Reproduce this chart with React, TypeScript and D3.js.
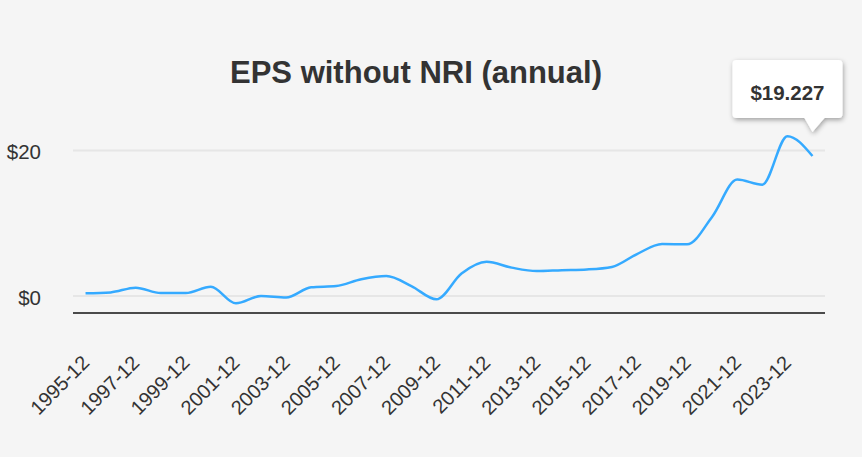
import React from "react";
import * as d3 from "d3";

const years: string[] = [
  "1995-12", "1996-12", "1997-12", "1998-12", "1999-12", "2000-12", "2001-12", "2002-12",
  "2003-12", "2004-12", "2005-12", "2006-12", "2007-12", "2008-12", "2009-12", "2010-12",
  "2011-12", "2012-12", "2013-12", "2014-12", "2015-12", "2016-12", "2017-12", "2018-12",
  "2019-12", "2020-12", "2021-12", "2022-12", "2023-12", "2024-12",
];

const eps: number[] = [
  0.37, 0.5, 1.15, 0.4, 0.4, 1.28, -1.0, 0.0,
  -0.2, 1.2, 1.37, 2.3, 2.75, 1.37, -0.45, 3.1,
  4.7, 3.9, 3.43, 3.55, 3.65, 4.0, 5.77, 7.14,
  7.1, 10.9, 16.0, 15.3, 21.96, 19.227,
];

const yTicks: number[] = [0, 20];
const tickLabels: string[] = years.filter((_, i) => i % 2 === 0);

const W = 862;
const H = 457;
const font = "'Liberation Sans', Arial, Helvetica, sans-serif";

export default function App() {
  const x = d3.scalePoint<string>().domain(years).range([73, 825]).padding(0.5);
  const y = d3.scaleLinear().domain([-2.33, 25]).range([313, 114]);

  const line = d3
    .line<number>()
    .x((_, i) => x(years[i]) as number)
    .y((d) => y(d))
    .curve(d3.curveMonotoneX);

  const last = eps.length - 1;
  const px = x(years[last]) as number;
  const py = y(eps[last]);

  // tooltip box around the last point
  const bx0 = px - 80;
  const bx1 = px + 30;
  const by0 = py - 96;
  const by1 = py - 38;
  const r = 4;
  const tip = `M${bx0 + r},${by0} H${bx1 - r} Q${bx1},${by0} ${bx1},${by0 + r} V${by1 - r} Q${bx1},${by1} ${bx1 - r},${by1} H${px + 12} L${px},${py - 24} L${px - 8},${by1} H${bx0 + r} Q${bx0},${by1} ${bx0},${by1 - r} V${by0 + r} Q${bx0},${by0} ${bx0 + r},${by0} Z`;

  return (
    <svg
      width={W}
      height={H}
      style={{ position: "absolute", left: 0, top: 0, background: "#f5f5f5" }}
      fontFamily={font}
    >
      <defs>
        <filter id="tipShadow" x="-20%" y="-20%" width="150%" height="160%">
          <feDropShadow dx="1" dy="2" stdDeviation="2.5" floodColor="#000" floodOpacity="0.35" />
        </filter>
      </defs>
      <rect x={0} y={0} width={W} height={H} fill="#f5f5f5" />

      <text x={416} y={83} textAnchor="middle" fontSize={31} fontWeight={700} fill="#333">
        EPS without NRI (annual)
      </text>

      {yTicks.map((t) => (
        <g key={t}>
          <line x1={73} x2={825} y1={y(t)} y2={y(t)} stroke="#e6e6e6" strokeWidth={2} />
          <text x={41} y={y(t)} dy="0.42em" textAnchor="end" fontSize={20.5} fill="#333">
            {"$" + t}
          </text>
        </g>
      ))}

      <line x1={73} x2={825} y1={313} y2={313} stroke="#4a4a4a" strokeWidth={2} />

      {tickLabels.map((lab) => {
        const tx = (x(lab) as number) + 5;
        const ty = 364;
        return (
          <text
            key={lab}
            x={tx}
            y={ty}
            textAnchor="end"
            fontSize={20}
            fill="#333"
            transform={`rotate(-45 ${tx} ${ty})`}
          >
            {lab}
          </text>
        );
      })}

      <path d={line(eps) || ""} fill="none" stroke="#35aaff" strokeWidth={2.5} strokeLinejoin="round" />

      <path d={tip} fill="#fff" filter="url(#tipShadow)" />
      <text x={(bx0 + bx1) / 2} y={by0 + 40} textAnchor="middle" fontSize={20.5} fontWeight={700} fill="#333">
        {"$" + eps[last].toFixed(3)}
      </text>
    </svg>
  );
}
